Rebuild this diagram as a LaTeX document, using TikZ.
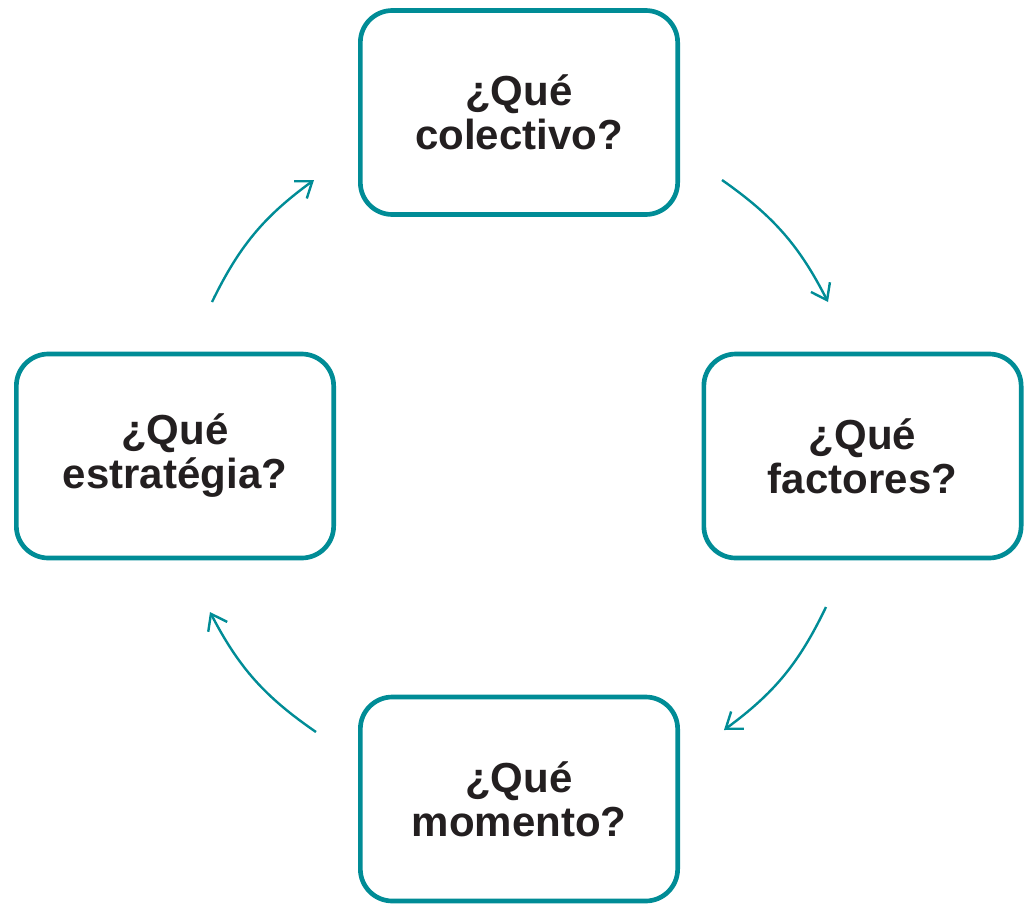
\documentclass[tikz,border=0pt]{standalone}
\usepackage{fontspec}
\setmainfont{Liberation Sans}
\usetikzlibrary{arrows.meta}

\definecolor{tealline}{RGB}{0,140,150}
\definecolor{qtext}{RGB}{35,31,32}

\tikzset{
  qbox/.style={draw=tealline, line width=3.5pt, rounded corners=24pt, fill=white,
    minimum width=238pt, minimum height=153pt, align=center, text=qtext,
    font=\fontsize{31.5}{33}\selectfont\bfseries, inner sep=0pt},
  cyclearrow/.style={draw=tealline, line width=1.8pt,
    -{Straight Barb[length=11pt,width=16pt,line width=1.8pt]}}
}

\begin{document}
\begin{tikzpicture}[x=0.75pt,y=0.75pt,yscale=-1,xscale=1]
%set diagram left start at 0, and has height of 904
\useasboundingbox (0,0) rectangle (1026,904);

%Rounded Rect [colectivo]
\node [qbox] (colectivo) at (519,112.5) {¿Qué\\colectivo?};
%Rounded Rect [factores]
\node [qbox] (factores) at (862.5,456) {¿Qué\\factores?};
%Rounded Rect [momento]
\node [qbox] (momento) at (519,799) {¿Qué\\momento?};
%Rounded Rect [estrategia]
\node [qbox] (estrategia) at (175,456) {¿Qué\\estratégia?};

%Arrow ends
\coordinate (a1) at (722,180);
\coordinate (a2) at (828,302);
\coordinate (b1) at (826,607);
\coordinate (b2) at (724,730);
\coordinate (c1) at (316,732);
\coordinate (c2) at (210,612);
\coordinate (d1) at (212,302);
\coordinate (d2) at (314,180);

%Curve Lines
\draw [cyclearrow] (a1) to [bend right=14] (a2);
\draw [cyclearrow] (b1) to [bend right=14] (b2);
\draw [cyclearrow] (c1) to [bend right=14] (c2);
\draw [cyclearrow] (d1) to [bend right=14] (d2);

\end{tikzpicture}
\end{document}
